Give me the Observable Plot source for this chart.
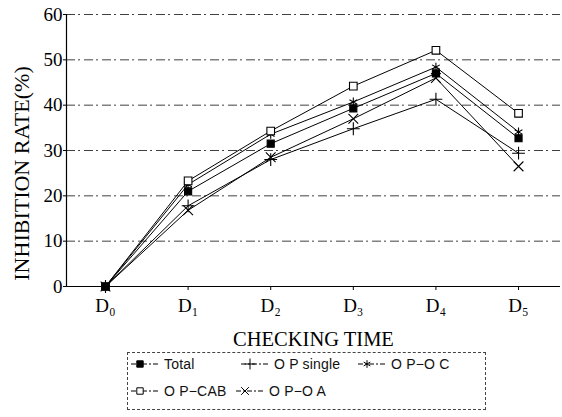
<!DOCTYPE html>
<html>
<head>
<meta charset="utf-8">
<script src="https://cdn.jsdelivr.net/npm/d3@7"></script>
<script src="https://cdn.jsdelivr.net/npm/@observablehq/plot@0.6"></script>
<style>
  html, body { margin: 0; padding: 0; background: #fff; }
  #wrap { position: relative; width: 562px; height: 417px; overflow: hidden; }
  #legend { position: absolute; left: 127px; top: 352px; width: 359px; height: 58px;
            border: 1px dashed #444; box-sizing: border-box;
            font-family: "Liberation Sans", Arial, sans-serif; font-size: 14px; color: #111; }
  .entry { position: absolute; display: flex; align-items: center; height: 16px; white-space: pre; letter-spacing: 0.2px; }
  .entry svg { margin-right: 5px; }
</style>
</head>
<body>
<div id="wrap"></div>
<script>
// ---- data ----
const categories = ["D₀", "D₁", "D₂", "D₃", "D₄", "D₅"];
const seriesNames = ["Total", "O P single", "O P−O C", "O P−CAB", "O P−O A"];
const total    = [0, 21.0, 31.5, 39.3, 47.0, 32.7];
const opSingle = [0, 17.8, 28.0, 34.8, 41.3, 29.4];
const opOC     = [0, 22.5, 33.6, 40.7, 48.4, 34.1];
const opCAB    = [0, 23.3, 34.3, 44.2, 52.1, 38.2];
const opOA     = [0, 16.8, 28.5, 37.0, 46.0, 26.5];
const yTicks   = [0, 10, 20, 30, 40, 50, 60];
const yLabel = "INHIBITION RATE(%)";
const xLabel = "CHECKING TIME";

const seriesValues = [total, opSingle, opOC, opCAB, opOA];
const rows = [];
seriesNames.forEach((s, k) => seriesValues[k].forEach((v, i) => rows.push({series: s, i, value: v})));

// marker styles per series
const markerStyle = {
  "Total":      {symbol: "square", fill: "black", stroke: "black", r: 4},
  "O P single": {symbol: "plus", fill: "none", stroke: "black", r: 4.2},
  "O P−O C":    {symbol: "asterisk", fill: "none", stroke: "black", r: 4.2},
  "O P−CAB":    {symbol: "square", fill: "white", stroke: "black", r: 4.3},
  "O P−O A":    {symbol: "times", fill: "none", stroke: "black", r: 4.5}
};
const drawOrder = ["O P−O A", "O P single", "O P−O C", "O P−CAB", "Total"];

const marks = [
  Plot.gridY(yTicks.filter(d => d > 0), {stroke: "black", strokeOpacity: 0.75, strokeDasharray: "9,3,2,4", strokeWidth: 1}),
  Plot.ruleY([0], {stroke: "black", strokeWidth: 1.2}),
  Plot.ruleX([-0.472], {stroke: "black", strokeWidth: 1.2}),
  Plot.axisY({ticks: yTicks, tickSize: 3, tickPadding: 1, fontSize: 19, label: null}),
  Plot.axisX({ticks: [0,1,2,3,4,5], tickFormat: i => categories[i], tickSize: 4, tickPadding: 8, fontSize: 19, label: null}),
  Plot.lineY(rows, {x: "i", y: "value", z: "series", stroke: "black", strokeWidth: 1})
];
for (const s of drawOrder) {
  const m = markerStyle[s];
  marks.push(Plot.dot(rows.filter(d => d.series === s), {x: "i", y: "value", symbol: () => m.symbol, r: m.r, fill: m.fill, stroke: m.stroke, strokeWidth: 1.1}));
}
marks.push(Plot.text([yLabel], {frameAnchor: "left", textAnchor: "middle", lineAnchor: "middle", rotate: -90, dx: -45, dy: 23, fontSize: 22}));
marks.push(Plot.text([xLabel], {frameAnchor: "bottom", lineAnchor: "middle", dy: 53, fontSize: 20.5}));

const chart = Plot.plot({
  width: 562,
  height: 352,
  marginLeft: 66,
  marginRight: 2,
  marginTop: 14,
  marginBottom: 66,
  style: {fontFamily: "'Liberation Serif', 'Times New Roman', serif", fontSize: "19px", color: "black", background: "white"},
  x: {domain: [-0.472, 5.508], axis: null},
  y: {domain: [0, 60], axis: null},
  symbol: {type: "identity"},
  marks
});
const wrap = document.getElementById("wrap");
wrap.appendChild(chart);

// ---- legend ----
const legend = document.createElement("div");
legend.id = "legend";
wrap.appendChild(legend);
const legendPos = {
  "Total": [3, 3], "O P single": [113, 3], "O P−O C": [230, 3],
  "O P−CAB": [3, 30], "O P−O A": [108, 30]
};
for (const s of seriesNames) {
  const m = markerStyle[s];
  const e = document.createElement("div");
  e.className = "entry";
  e.style.left = legendPos[s][0] + "px";
  e.style.top = legendPos[s][1] + "px";
  const svg = d3.create("svg").attr("width", 28).attr("height", 16);
  svg.append("line").attr("x1", 0).attr("x2", 28).attr("y1", 8).attr("y2", 8)
     .attr("stroke", "black").attr("stroke-width", 1).attr("stroke-dasharray", "5,2,2,2");
  const symType = {square: d3.symbolSquare, plus: d3.symbolPlus, asterisk: d3.symbolAsterisk, times: d3.symbolTimes}[m.symbol];
  svg.append("path").attr("transform", "translate(9,8)")
     .attr("d", d3.symbol(symType, Math.PI * 3.6 * 3.6)())
     .attr("fill", m.fill).attr("stroke", m.stroke).attr("stroke-width", 1);
  e.appendChild(svg.node());
  const t = document.createElement("span");
  t.textContent = s;
  e.appendChild(t);
  legend.appendChild(e);
}
</script>
</body>
</html>
